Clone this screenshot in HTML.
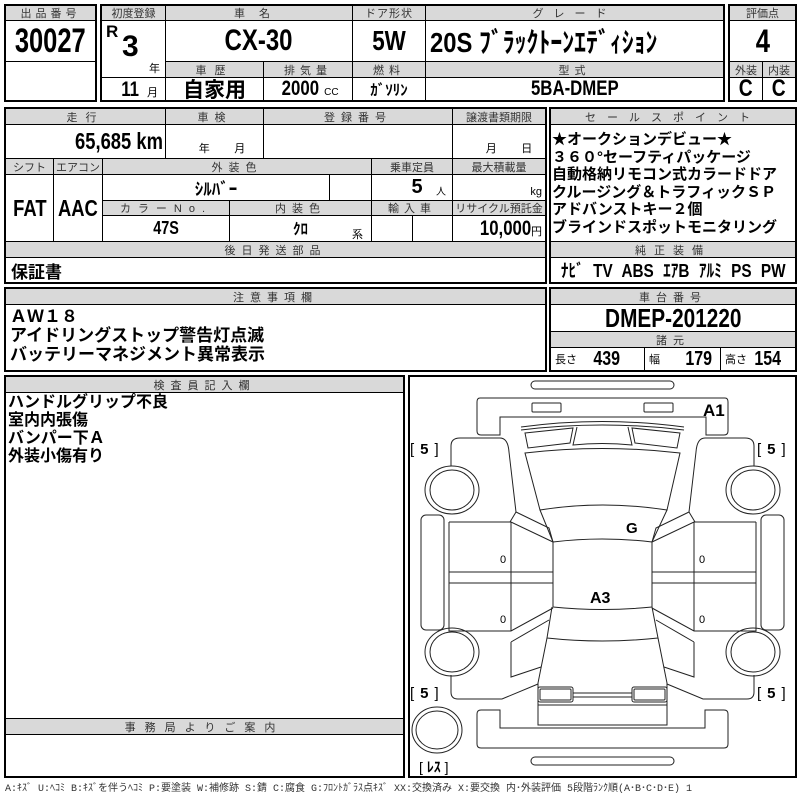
<!DOCTYPE html>
<html><head><meta charset="utf-8">
<style>
*{margin:0;padding:0;box-sizing:border-box}
body{width:800px;height:800px;background:#fff;position:relative;overflow:hidden;font-family:"Liberation Sans","Noto Sans CJK JP",sans-serif;color:#000}
.c{position:absolute;border:1px solid #000;display:flex;align-items:center;justify-content:center;white-space:nowrap;overflow:hidden}
.g{background:#d9d9d9;font-size:11px;color:#333;letter-spacing:3px}
.n{font-family:"Liberation Sans Narrow","Liberation Sans","Noto Sans CJK JP",sans-serif;font-weight:bold}
.s{display:inline-block;transform:scaleX(.8)}
.t{position:absolute;white-space:nowrap}
.o{position:absolute;border:2px solid #000}
.j{font-family:"Liberation Sans","Noto Sans CJK JP",sans-serif;font-weight:bold}
</style></head><body>

<div class="c g" style="left:5px;top:5px;width:91px;height:16px;letter-spacing:4px">出品番号</div>
<div class="c n" style="left:5px;top:20px;width:91px;height:42px;font-size:34px"><span class="s" style="transform:scaleX(.75)">30027</span></div>
<div class="c" style="left:5px;top:61px;width:91px;height:40px"></div>
<div class="o" style="left:4px;top:4px;width:93px;height:98px"></div>

<div class="c g" style="left:101px;top:5px;width:65px;height:16px;letter-spacing:0">初度登録</div>
<div class="c g" style="left:165px;top:5px;width:188px;height:16px;letter-spacing:14px">車名</div>
<div class="c g" style="left:352px;top:5px;width:74px;height:16px;letter-spacing:1px">ドア形状</div>
<div class="c g" style="left:425px;top:5px;width:299px;height:16px;letter-spacing:10px">グレード</div>
<div class="c" style="left:101px;top:20px;width:65px;height:58px"></div>
<div class="t n" style="left:106px;top:22px;font-size:17px">R</div>
<div class="t n" style="left:122px;top:30px;font-size:30px">3</div>
<div class="t" style="left:149px;top:60px;font-size:11px">年</div>
<div class="c" style="left:101px;top:77px;width:65px;height:24px"></div>
<div class="t n" style="left:119px;top:78px;font-size:21px"><span class="s">11</span></div>
<div class="t" style="left:147px;top:84px;font-size:11px">月</div>
<div class="c n" style="left:165px;top:20px;width:188px;height:42px;font-size:30px"><span class="s">CX-30</span></div>
<div class="c n" style="left:352px;top:20px;width:74px;height:42px;font-size:28px"><span class="s">5W</span></div>
<div class="c n" style="left:425px;top:20px;width:299px;height:42px;font-size:28px;justify-content:flex-start;padding-left:4px"><span class="s" style="transform-origin:left;transform:scaleX(.85)">20S&nbsp;ﾌﾞﾗｯｸﾄｰﾝｴﾃﾞｨｼｮﾝ</span></div>
<div class="c g" style="left:165px;top:61px;width:99px;height:17px;letter-spacing:8px">車歴</div>
<div class="c g" style="left:263px;top:61px;width:90px;height:17px;letter-spacing:5px">排気量</div>
<div class="c g" style="left:352px;top:61px;width:74px;height:17px;letter-spacing:5px">燃料</div>
<div class="c g" style="left:425px;top:61px;width:299px;height:17px;letter-spacing:5px">型式</div>
<div class="c j" style="left:165px;top:77px;width:99px;height:24px;font-size:21px">自家用</div>
<div class="c" style="left:263px;top:77px;width:90px;height:24px"><span class="n s" style="font-size:21px">2000</span><span style="font-size:10px;margin-top:6px">CC</span></div>
<div class="c n" style="left:352px;top:77px;width:74px;height:24px;font-size:15px">ｶﾞｿﾘﾝ</div>
<div class="c n" style="left:425px;top:77px;width:299px;height:24px;font-size:21px"><span class="s">5BA-DMEP</span></div>
<div class="o" style="left:100px;top:4px;width:625px;height:98px"></div>

<div class="c g" style="left:729px;top:5px;width:67px;height:16px;letter-spacing:0">評価点</div>
<div class="c n" style="left:729px;top:20px;width:67px;height:42px;font-size:32px"><span class="s">4</span></div>
<div class="c g" style="left:729px;top:61px;width:34px;height:17px;letter-spacing:0">外装</div>
<div class="c g" style="left:762px;top:61px;width:34px;height:17px;letter-spacing:0">内装</div>
<div class="c n" style="left:729px;top:77px;width:34px;height:24px;font-size:24px"><span class="s">C</span></div>
<div class="c n" style="left:762px;top:77px;width:34px;height:24px;font-size:24px"><span class="s">C</span></div>
<div class="o" style="left:728px;top:4px;width:69px;height:98px"></div>

<div class="c g" style="left:5px;top:108px;width:161px;height:17px;letter-spacing:8px">走行</div>
<div class="c g" style="left:165px;top:108px;width:99px;height:17px;letter-spacing:6px">車検</div>
<div class="c g" style="left:263px;top:108px;width:190px;height:17px;letter-spacing:6px">登録番号</div>
<div class="c g" style="left:452px;top:108px;width:94px;height:17px;letter-spacing:0">譲渡書類期限</div>
<div class="c" style="left:5px;top:124px;width:161px;height:35px;justify-content:flex-end;padding-right:2px"><span class="n s" style="font-size:23px;transform-origin:right">65,685 km</span></div>
<div class="c" style="left:165px;top:124px;width:99px;height:35px;font-size:11px;align-items:flex-end;padding-bottom:2px;padding-left:15px">年&nbsp;&nbsp;&nbsp;&nbsp;&nbsp;&nbsp;&nbsp;&nbsp;月</div>
<div class="c" style="left:263px;top:124px;width:190px;height:35px"></div>
<div class="c" style="left:452px;top:124px;width:94px;height:35px;font-size:11px;align-items:flex-end;padding-bottom:2px;padding-left:20px">月&nbsp;&nbsp;&nbsp;&nbsp;&nbsp;&nbsp;&nbsp;&nbsp;日</div>
<div class="c g" style="left:5px;top:158px;width:49px;height:17px;letter-spacing:0">シフト</div>
<div class="c g" style="left:53px;top:158px;width:50px;height:17px;letter-spacing:0">エアコン</div>
<div class="c g" style="left:102px;top:158px;width:270px;height:17px;letter-spacing:6px">外装色</div>
<div class="c g" style="left:371px;top:158px;width:82px;height:17px;letter-spacing:0">乗車定員</div>
<div class="c g" style="left:452px;top:158px;width:94px;height:17px;letter-spacing:0">最大積載量</div>
<div class="c n" style="left:5px;top:174px;width:49px;height:68px;font-size:23px"><span class="s">FAT</span></div>
<div class="c n" style="left:53px;top:174px;width:50px;height:68px;font-size:23px"><span class="s">AAC</span></div>
<div class="c n" style="left:102px;top:174px;width:228px;height:27px;font-size:17px">ｼﾙﾊﾞｰ</div>
<div class="c" style="left:329px;top:174px;width:43px;height:27px"></div>
<div class="c" style="left:371px;top:174px;width:82px;height:27px;justify-content:flex-end;padding-right:6px"><span class="n" style="font-size:20px">5</span>&nbsp;&nbsp;&nbsp;<span style="font-size:10px;margin-top:6px">人</span></div>
<div class="c" style="left:452px;top:174px;width:94px;height:27px;justify-content:flex-end;padding-right:3px;font-size:11px;align-items:flex-end;padding-bottom:2px">kg</div>
<div class="c g" style="left:102px;top:200px;width:128px;height:16px;letter-spacing:7px">カラーNo.</div>
<div class="c g" style="left:229px;top:200px;width:143px;height:16px;letter-spacing:6px">内装色</div>
<div class="c g" style="left:371px;top:200px;width:82px;height:16px;letter-spacing:5px">輸入車</div>
<div class="c g" style="left:452px;top:200px;width:94px;height:16px;letter-spacing:0">リサイクル預託金</div>
<div class="c n" style="left:102px;top:215px;width:128px;height:27px;font-size:18px"><span class="s">47S</span></div>
<div class="c n" style="left:229px;top:215px;width:143px;height:27px;font-size:15px">ｸﾛ</div>
<div class="t" style="left:352px;top:226px;font-size:11px">系</div>
<div class="c" style="left:371px;top:215px;width:42px;height:27px"></div>
<div class="c" style="left:412px;top:215px;width:41px;height:27px"></div>
<div class="c" style="left:452px;top:215px;width:94px;height:27px;justify-content:flex-end;padding-right:3px"><span class="n s" style="font-size:21px;transform-origin:right">10,000</span><span style="font-size:11px;margin-top:5px">円</span></div>
<div class="c g" style="left:5px;top:241px;width:541px;height:17px;letter-spacing:6px">後日発送部品</div>
<div class="c j" style="left:5px;top:257px;width:541px;height:26px;font-size:17px;justify-content:flex-start;padding-left:5px">保証書</div>
<div class="o" style="left:4px;top:107px;width:543px;height:177px"></div>

<div class="c g" style="left:550px;top:108px;width:246px;height:17px;letter-spacing:11px">セールスポイント</div>
<div class="c" style="left:550px;top:124px;width:246px;height:118px"></div>
<div class="t j" style="left:552px;top:131px;font-size:15px;line-height:17.6px">★オークションデビュー★<br>３６０°セーフティパッケージ<br>自動格納リモコン式カラードドア<br>クルージング＆トラフィックＳＰ<br>アドバンストキー２個<br>ブラインドスポットモニタリング</div>
<div class="c g" style="left:550px;top:241px;width:246px;height:17px;letter-spacing:8px">純正装備</div>
<div class="c n" style="left:550px;top:257px;width:246px;height:26px;font-size:18px;word-spacing:6px"><span class="s" style="transform:scaleX(.85)">ﾅﾋﾞ TV ABS ｴｱB ｱﾙﾐ PS PW</span></div>
<div class="o" style="left:549px;top:107px;width:248px;height:177px"></div>

<div class="c g" style="left:5px;top:288px;width:541px;height:17px;letter-spacing:6px">注意事項欄</div>
<div class="c" style="left:5px;top:304px;width:541px;height:67px"></div>
<div class="t j" style="left:10px;top:307px;font-size:17px;line-height:19px">ＡＷ１８<br>アイドリングストップ警告灯点滅<br>バッテリーマネジメント異常表示</div>
<div class="o" style="left:4px;top:287px;width:543px;height:85px"></div>

<div class="c g" style="left:550px;top:288px;width:246px;height:17px;letter-spacing:6px">車台番号</div>
<div class="c n" style="left:550px;top:304px;width:246px;height:28px;font-size:26px"><span class="s">DMEP-201220</span></div>
<div class="c g" style="left:550px;top:331px;width:246px;height:17px;letter-spacing:6px">諸元</div>
<div class="c" style="left:550px;top:347px;width:95px;height:24px;justify-content:flex-start;padding-left:4px"><span style="font-size:11px">長さ</span>&nbsp;&nbsp;&nbsp;<span class="n s" style="font-size:20px">439</span></div>
<div class="c" style="left:644px;top:347px;width:77px;height:24px;justify-content:flex-start;padding-left:4px"><span style="font-size:11px">幅</span>&nbsp;&nbsp;&nbsp;&nbsp;&nbsp;<span class="n s" style="font-size:20px">179</span></div>
<div class="c" style="left:720px;top:347px;width:76px;height:24px;justify-content:flex-start;padding-left:4px"><span style="font-size:11px">高さ</span>&nbsp;<span class="n s" style="font-size:20px">154</span></div>
<div class="o" style="left:549px;top:287px;width:248px;height:85px"></div>

<div class="c g" style="left:5px;top:376px;width:399px;height:17px;letter-spacing:6px">検査員記入欄</div>
<div class="c" style="left:5px;top:392px;width:399px;height:327px"></div>
<div class="t j" style="left:8px;top:394px;font-size:16px;line-height:18px">ハンドルグリップ不良<br>室内内張傷<br>バンパー下Ａ<br>外装小傷有り</div>
<div class="c g" style="left:5px;top:718px;width:399px;height:17px;letter-spacing:9px">事務局よりご案内</div>
<div class="c" style="left:5px;top:734px;width:399px;height:44px"></div>
<div class="o" style="left:4px;top:375px;width:401px;height:403px"></div>

<div class="o" style="left:408px;top:375px;width:389px;height:403px"></div>
<svg style="position:absolute;left:0;top:0" width="800" height="800" viewBox="0 0 800 800">
<g fill="none" stroke="#222" stroke-width="1">
<rect x="531" y="381" width="143" height="8" rx="4"/>
<path d="M480,398 H725 Q728,398 728,402 V431 Q728,435 724,435 H706 V417 H500 V435 H481 Q477,435 477,431 V402 Q477,398 480,398 Z"/>
<rect x="532" y="403" width="29" height="9" rx="1"/>
<rect x="644" y="403" width="29" height="9" rx="1"/>
<rect x="531" y="757" width="143" height="8" rx="4"/>
<path d="M481,710 H500 V728 H705 V710 H724 Q728,710 728,714 V744 Q728,748 724,748 H481 Q477,748 477,744 V714 Q477,710 481,710 Z"/>
<path d="M521,427 Q602,416 684,427 M521,430 Q602,420 684,430"/>
<path d="M525,433 L573,428 L570,443 L528,448 Z"/>
<path d="M680,433 L632,428 L635,443 L677,448 Z"/>
<path d="M577,427 L573,445 Q602,442 632,445 L628,427"/>
<path d="M525,453 Q602,444 680,453 L667,510 Q602,500 540,510 Z"/>
<path d="M540,510 L553,542 Q602,536 652,542 L667,510"/>
<path d="M553,542 V607 Q602,612 652,607 V542"/>
<path d="M552,607 L547,638 Q602,644 658,638 L652,607"/>
<path d="M547,638 L538,683 V725 H667 V683 L658,638"/>
<rect x="538" y="687" width="35" height="15" rx="2"/>
<rect x="540" y="689" width="31" height="11" rx="1"/>
<rect x="632" y="687" width="35" height="15" rx="2"/>
<rect x="634" y="689" width="31" height="11" rx="1"/>
<path d="M573,693 H632 M573,697 H632 M538,705 H667"/>
<ellipse cx="437" cy="730" rx="25" ry="23"/>
<ellipse cx="437" cy="730" rx="21" ry="19"/>
<g id="side">
<path d="M451,466 V446 Q451,438 460,438 H500 Q508,438 509,452 L516,512 L549,528 L553,542"/>
<path d="M516,512 L510,522"/>
<ellipse cx="452" cy="490" rx="27" ry="24"/>
<ellipse cx="452" cy="490" rx="22" ry="20"/>
<ellipse cx="452" cy="652" rx="27" ry="24"/>
<ellipse cx="452" cy="652" rx="22" ry="20"/>
<rect x="421" y="515" width="23" height="115" rx="5"/>
<path d="M449,522 H511 L553,542 M511,522 V631 M449,522 V631 H511 L553,608 M449,572 H553 M449,583 H553"/>
<path d="M511,642 L549,620 M511,642 V677 L541,667"/>
<path d="M451,675 V692 Q451,699 458,699 H502 L538,684"/>
</g>
<use href="#side" transform="translate(1205,0) scale(-1,1)"/>
</g>
<g font-family="Liberation Sans, sans-serif" fill="#000">
<text x="703" y="416" font-size="17" font-weight="bold">A1</text>
<text x="626" y="533" font-size="15" font-weight="bold">G</text>
<text x="590" y="603" font-size="16" font-weight="bold">A3</text>
<text x="500" y="563" font-size="11">0</text>
<text x="500" y="623" font-size="11">0</text>
<text x="699" y="563" font-size="11">0</text>
<text x="699" y="623" font-size="11">0</text>
<text x="410" y="454" font-size="15"><tspan>[</tspan><tspan font-weight="bold" dx="6">5</tspan><tspan dx="6">]</tspan></text>
<text x="757" y="454" font-size="15"><tspan>[</tspan><tspan font-weight="bold" dx="6">5</tspan><tspan dx="6">]</tspan></text>
<text x="410" y="698" font-size="15"><tspan>[</tspan><tspan font-weight="bold" dx="6">5</tspan><tspan dx="6">]</tspan></text>
<text x="757" y="698" font-size="15"><tspan>[</tspan><tspan font-weight="bold" dx="6">5</tspan><tspan dx="6">]</tspan></text>
<text x="419" y="772" font-size="14" font-family="Liberation Sans, Noto Sans CJK JP, sans-serif">[ <tspan font-weight="bold">ﾚｽ</tspan> ]</text>
</g>
</svg>

<div class="t" style="left:5px;top:779px;font-size:10px;color:#333;font-family:'Liberation Mono','Noto Sans CJK JP',monospace">A:ｷｽﾞ U:ﾍｺﾐ B:ｷｽﾞを伴うﾍｺﾐ P:要塗装 W:補修跡 S:錆 C:腐食 G:ﾌﾛﾝﾄｶﾞﾗｽ点ｷｽﾞ XX:交換済み X:要交換 内･外装評価 5段階ﾗﾝｸ順(A･B･C･D･E) 1</div>
</body></html>
